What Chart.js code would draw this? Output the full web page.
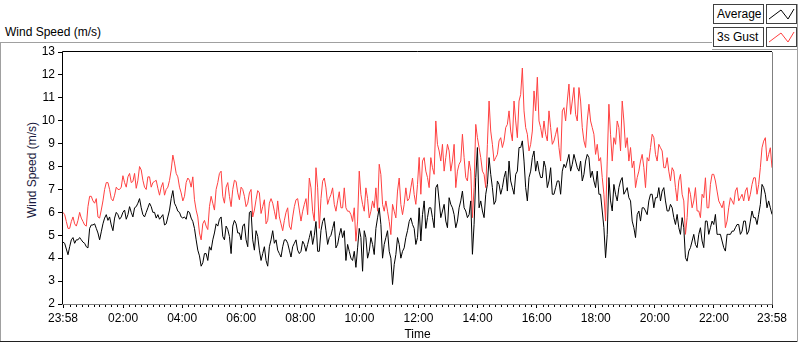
<!DOCTYPE html>
<html>
<head>
<meta charset="utf-8">
<script src="https://cdn.jsdelivr.net/npm/chart.js"></script>
<style>
  body { margin: 0; background: #fff; }
  #contenedor { position: relative; width: 800px; height: 342px; overflow: hidden;
    font-family: "Liberation Sans", Arial, sans-serif; font-size: 12px; color: #000; }
  #grafico { position: absolute; left: 0; top: 0; }
  .linea { position: absolute; background: #a0a0a0; }
  #titulo { position: absolute; left: 5px; top: 25px; line-height: 14px; white-space: nowrap; }
  #tituloY { position: absolute; left: 32px; top: 170px; width: 120px; margin-left: -60px; margin-top: -7px;
    line-height: 14px; text-align: center; transform: rotate(-90deg); white-space: nowrap; color: #1a1a40; }
  .caja { position: absolute; border: 1px solid #404040; background: #fff; box-sizing: border-box; }
  .caja span { position: absolute; left: 3px; top: 2px; line-height: 14px; white-space: nowrap; }
</style>
</head>
<body>
<div id="contenedor">
  <!-- marco exterior -->
  <div class="linea" style="left:0;top:42px;width:712px;height:1px"></div>
  <div class="linea" style="left:0;top:42px;width:1px;height:300px"></div>
  <div class="linea" style="left:0;top:341px;width:798px;height:1px;background:#202020"></div>
  <div class="linea" style="left:797px;top:4px;width:1px;height:338px"></div>
  <div class="linea" style="left:712px;top:49px;width:86px;height:1px"></div>

  <div id="titulo">Wind Speed (m/s)</div>
  <div id="tituloY">Wind Speed (m/s)</div>

  <!-- leyenda -->
  <div class="caja" style="left:713px;top:4px;width:51px;height:20px"><span>Average</span></div>
  <div class="caja" style="left:766px;top:4px;width:31px;height:20px">
    <svg width="29" height="18"><polyline points="2,14 14,5 21,14 27,4" fill="none" stroke="#000" stroke-width="1"/></svg>
  </div>
  <div class="caja" style="left:713px;top:27px;width:51px;height:20px"><span>3s Gust</span></div>
  <div class="caja" style="left:766px;top:27px;width:31px;height:20px">
    <svg width="29" height="18"><polyline points="2,14 14,5 21,14 27,4" fill="none" stroke="#ff4040" stroke-width="1"/></svg>
  </div>

  <canvas id="grafico" width="800" height="342"></canvas>
</div>
<script>
// Datos (m/s), muestras igualmente espaciadas de 23:58 a 23:58
const promedio = [
  4.7, 4.65, 4.4, 4.15, 4.5, 4.8, 4.9, 4.65, 4.8, 4.8, 4.9, 4.8, 4.7, 4.65, 4.5, 4.45, 5.3, 5.45, 5.45, 5.5,
  5.3, 5.1, 4.8, 5.15, 5.5, 5.75, 5.9, 5.65, 5.8, 5.45, 5.2, 5.75, 6.0, 5.9, 5.7, 5.8, 6.0, 6.1, 5.7, 5.9,
  6.25, 6.0, 5.8, 6.2, 6.25, 6.4, 6.6, 6.2, 5.9, 5.8, 6.0, 6.2, 6.4, 6.25, 6.0, 6.0, 5.75, 5.9, 5.7, 5.8,
  5.9, 5.45, 5.5, 5.8, 6.1, 6.6, 6.95, 6.4, 6.25, 6.05, 6.0, 5.8, 5.75,
  5.8, 5.7, 6.05, 6.0, 5.75, 5.6, 5.3, 4.8, 4.35, 4.1, 3.65, 3.8, 4.2, 4.2, 3.9, 4.5, 4.35, 4.8, 5.1, 5.5,
  5.4, 5.7, 5.8, 4.95, 4.8, 5.4, 5.25, 4.95, 4.2, 5.4, 5.65, 5.5, 5.1, 5.1, 4.8, 5.4, 5.5, 4.8, 4.5, 6.0,
  6.05, 4.8, 4.35, 5.2, 4.95, 4.35, 3.9, 4.2, 4.5, 3.9, 3.65, 4.5, 4.8, 5.2, 4.65, 4.8, 4.35, 4.2, 4.05, 4.5,
  4.8, 4.8, 4.65, 4.35, 4.05, 4.5, 4.65, 4.8, 4.35, 4.2,
  4.3, 4.74, 4.6, 4.3, 4.6, 4.9, 5.2, 4.6, 5.0, 5.6, 4.3, 4.3, 5.2, 5.6, 5.76, 5.2, 4.6, 4.9, 5.0, 5.3,
  5.6, 4.45, 4.6, 5.0, 5.3, 4.9, 5.2, 3.9, 4.6, 4.3, 4.0, 3.9, 4.3, 3.6, 4.45, 5.3, 4.9, 3.43, 5.2, 4.9,
  4.0, 4.3, 4.9, 4.6, 4.16, 5.3, 5.76, 6.2, 5.47, 4.0, 4.6, 4.9, 5.2, 4.3, 4.0, 2.85, 3.72, 4.16, 4.9, 4.6,
  4.0, 4.3, 4.45, 4.9, 5.2, 5.6, 5.76, 5.47, 5.3, 4.6, 4.9, 6.2,
  4.75, 5.9, 6.5, 5.3, 5.77, 6.2, 6.2, 5.77, 5.33, 7.08, 7.22, 6.5, 5.77, 6.06, 6.35, 5.62, 5.33, 6.64, 6.35, 6.2,
  5.9, 5.33, 5.62, 6.2, 6.5, 6.93, 6.2, 6.06, 5.77, 5.9, 6.5, 4.17, 5.48, 7.52, 8.83, 6.2, 6.5, 6.06, 5.77, 6.79,
  7.22, 8.39, 7.66, 7.08, 6.35, 6.5, 7.37, 7.22, 6.79, 7.08, 7.52, 7.8, 6.93, 8.24, 7.37, 7.08, 6.79, 7.66, 7.8, 8.83,
  8.83, 9.12, 8.24, 7.08, 6.5, 7.52, 7.8, 8.39, 8.68, 7.8,
  8.24, 7.8, 7.52, 7.52, 8.24, 7.95, 7.08, 7.37, 7.95, 6.79, 6.79, 7.08, 7.37, 7.37, 6.79, 7.8, 8.1, 7.95, 8.24, 8.53,
  7.8, 8.1, 8.53, 8.24, 7.95, 7.8, 8.24, 7.37, 7.66, 8.24, 8.53, 8.39, 7.52, 7.8, 7.37, 7.08, 7.8, 6.79, 6.79, 6.06,
  5.33, 4.02, 5.04, 7.52, 6.5, 6.06, 7.22, 6.79, 6.5, 7.08, 7.37, 7.52, 6.79, 6.93, 7.08, 6.64, 6.5, 5.62, 5.33, 4.9,
  5.9, 6.06, 5.62, 6.2, 6.2, 6.06, 5.9, 6.5, 6.79, 6.79, 6.2, 6.64,
  6.64, 7.08, 6.5, 6.93, 7.08, 6.5, 6.06, 6.06, 6.35, 6.2, 5.77, 5.47, 5.91, 5.33, 5.04, 5.77, 5.33, 4.02, 3.87, 4.31,
  4.46, 4.75, 5.04, 4.6, 4.46, 5.04, 5.33, 4.75, 4.46, 5.62, 5.62, 5.04, 5.33, 5.62, 5.47, 5.91, 5.04, 5.04, 5.04, 4.75,
  4.46, 4.31, 5.04, 5.04, 5.04, 5.18, 5.18, 5.33, 5.47, 5.47, 5.04, 5.18, 5.62, 5.62, 5.04, 5.18, 5.62, 6.06, 5.77, 5.77,
  5.47, 5.91, 6.35, 7.22, 7.08, 6.79, 6.2, 6.5, 6.2, 5.91
];
const rafaga = [
  6.0, 5.9, 5.6, 5.3, 5.3, 5.6, 5.8, 5.5, 5.4, 5.65, 6.0, 5.75, 5.6, 5.45, 5.4, 6.25, 6.7, 6.7, 6.5, 6.4,
  6.6, 5.8, 5.75, 6.1, 6.5, 7.0, 7.3, 7.3, 7.0, 6.6, 6.5, 6.75, 7.1, 7.0, 7.0, 7.1, 7.6, 7.3, 7.1, 7.55,
  7.7, 7.3, 7.35, 7.7, 7.05, 7.4, 8.0, 7.85, 7.4, 7.1, 7.0, 7.55, 7.55, 7.1, 7.3, 7.35, 7.4, 7.05, 6.75, 7.1,
  7.3, 6.75, 7.0, 7.1, 7.4, 7.85, 8.5, 8.15, 7.7, 7.55, 7.1, 6.85, 6.5,
  6.7, 7.3, 7.5, 7.4, 7.1, 7.55, 6.55, 6.1, 5.8, 5.1, 4.8, 5.5, 5.65, 5.4, 5.25, 6.25, 6.7, 6.4, 6.1, 7.0,
  7.3, 7.7, 7.8, 6.7, 6.4, 7.1, 7.3, 6.7, 6.25, 7.0, 7.4, 7.35, 6.85, 6.55, 7.1, 7.0, 6.7, 6.25, 6.4, 6.85,
  7.0, 5.8, 6.1, 6.55, 6.95, 6.85, 5.95, 6.25, 6.55, 5.5, 5.65, 6.4, 6.6, 6.4, 6.05, 5.7, 6.5, 5.8, 5.5, 5.2,
  5.65, 6.0, 6.2, 5.4, 5.25, 5.8, 6.25, 6.55, 6.6, 6.1,
  5.62, 6.05, 6.35, 6.6, 5.9, 7.5, 7.07, 6.05, 5.62, 7.95, 7.07, 5.3, 6.6, 7.36, 7.5, 7.07, 6.35, 6.6, 6.78, 7.07,
  6.35, 6.05, 6.5, 6.9, 6.2, 6.2, 7.07, 6.2, 6.05, 6.05, 5.9, 5.6, 6.2, 4.74, 5.62, 7.8, 6.78, 6.35, 6.05, 7.07,
  6.6, 5.76, 6.05, 6.5, 6.2, 7.07, 6.05, 8.1, 7.65, 6.35, 6.05, 6.5, 6.05, 5.6, 5.03, 6.35, 6.05, 5.76, 6.93, 7.5,
  6.35, 5.9, 6.35, 7.07, 6.5, 6.6, 7.07, 7.5, 6.78, 6.35, 7.22, 8.4,
  6.79, 8.24, 8.39, 7.8, 7.52, 7.08, 8.39, 7.95, 7.66, 9.99, 8.97, 8.68, 8.24, 8.97, 7.8, 8.39, 8.97, 8.68, 7.8, 8.24,
  8.97, 7.08, 7.8, 8.1, 8.24, 9.41, 8.39, 7.52, 7.37, 8.24, 7.8, 5.77, 7.08, 9.84, 9.26, 8.83, 8.39, 7.8, 7.66, 7.08,
  8.97, 10.86, 9.55, 8.97, 8.24, 8.39, 8.53, 9.12, 9.26, 8.83, 9.12, 9.7, 9.84, 10.43, 9.55, 9.12, 10.86, 9.99, 9.26, 10.86,
  11.15, 12.3, 10.43, 9.7, 9.41, 8.68, 8.97, 9.55, 11.3, 10.43,
  11.9, 9.99, 9.7, 9.26, 9.99, 9.41, 9.12, 10.43, 9.7, 8.97, 9.12, 9.41, 9.7, 8.83, 8.24, 10.43, 10.57, 9.99, 10.86, 11.6,
  10.28, 10.86, 11.45, 10.28, 9.99, 11.45, 10.86, 9.7, 9.12, 8.83, 9.99, 10.72, 9.99, 9.7, 9.41, 8.53, 8.97, 8.24, 8.39, 7.52,
  6.79, 5.62, 8.24, 10.72, 9.41, 8.24, 9.26, 8.97, 9.99, 9.7, 8.68, 10.86, 9.99, 8.83, 9.26, 8.24, 8.83, 7.95, 8.24, 7.08,
  7.52, 7.8, 8.24, 8.53, 7.95, 7.08, 8.39, 8.24, 8.83, 9.41, 9.26, 8.53,
  8.24, 8.97, 8.82, 8.68, 7.95, 7.95, 8.39, 7.8, 7.37, 7.95, 7.8, 7.08, 6.5, 7.37, 7.66, 6.79, 6.5, 5.04, 5.77, 7.08,
  6.79, 6.2, 6.5, 7.08, 6.06, 6.06, 5.77, 6.79, 6.64, 7.51, 6.2, 6.2, 7.22, 7.66, 7.66, 7.37, 6.93, 6.5, 6.35, 6.2,
  6.5, 5.33, 5.62, 6.2, 6.64, 6.5, 6.35, 6.93, 7.08, 6.5, 6.64, 6.79, 6.5, 6.93, 7.08, 6.5, 6.79, 7.22, 7.51, 7.51,
  6.79, 7.22, 7.95, 8.82, 9.11, 9.26, 8.24, 8.53, 8.82, 7.95
];
// minutos desde las 23:58 y sus etiquetas
const ticksMayores = [0, 122, 242, 362, 482, 602, 722, 842, 962, 1082, 1202, 1322, 1440];
const etiquetasTiempo = ['23:58', '02:00', '04:00', '06:00', '08:00', '10:00', '12:00',
  '14:00', '16:00', '18:00', '20:00', '22:00', '23:58'];
const duracion = 1440;

const fuente = { family: '"Liberation Sans", Arial, sans-serif', size: 12 };

function aPuntos(valores) {
  const paso = duracion / (valores.length - 1);
  return valores.map((v, i) => ({ x: i * paso, y: v }));
}

// Marco del area de grafico y ticks menores del eje de tiempo
const marcoGrafico = {
  id: 'marcoGrafico',
  afterDraw(chart) {
    const { ctx, chartArea: a, scales: { x } } = chart;
    ctx.save();
    ctx.lineWidth = 1;
    ctx.strokeStyle = '#000';
    ctx.beginPath();
    ctx.moveTo(a.left - 0.5, a.bottom);
    ctx.lineTo(a.left - 0.5, a.top - 0.5);
    ctx.lineTo(a.right, a.top - 0.5);
    ctx.stroke();
    ctx.strokeStyle = '#808080';
    ctx.beginPath();
    ctx.moveTo(a.right + 0.5, a.top);
    ctx.lineTo(a.right + 0.5, a.bottom + 0.5);
    ctx.lineTo(a.left - 1, a.bottom + 0.5);
    ctx.stroke();
    ctx.strokeStyle = '#000';
    ctx.beginPath();
    for (let v = 14; v < duracion; v += 12) {
      if (ticksMayores.includes(v)) continue;
      const px = Math.round(x.getPixelForValue(v)) + 0.5;
      ctx.moveTo(px, a.bottom + 1);
      ctx.lineTo(px, a.bottom + 3);
    }
    ctx.stroke();
    ctx.restore();
  }
};

const ctx = document.getElementById('grafico');

new Chart(ctx, {
  type: 'line',
  data: {
    datasets: [{
      label: 'Average',
      data: aPuntos(promedio),
      borderColor: '#000000',
      borderWidth: 1,
      pointRadius: 0,
      tension: 0
    }, {
      label: '3s Gust',
      data: aPuntos(rafaga),
      borderColor: '#ff4040',
      borderWidth: 1,
      pointRadius: 0,
      tension: 0
    }]
  },
  options: {
    responsive: false,
    animation: false,
    devicePixelRatio: 1,
    layout: { padding: { left: 0, top: 52, right: 28, bottom: 0 } },
    plugins: { legend: { display: false }, tooltip: { enabled: false } },
    scales: {
      x: {
        type: 'linear',
        min: 0,
        max: duracion,
        afterBuildTicks: (escala) => { escala.ticks = ticksMayores.map(v => ({ value: v })); },
        afterFit: (escala) => { escala.height = 342 - 304; },
        ticks: {
          autoSkip: false,
          maxRotation: 0,
          padding: 3,
          color: '#000',
          font: fuente,
          callback: (v) => etiquetasTiempo[ticksMayores.indexOf(v)] ?? ''
        },
        grid: { drawOnChartArea: false, tickLength: 4, tickColor: '#000', tickWidth: 1, offset: false },
        border: { display: false },
        title: { display: true, text: 'Time', color: '#000', font: fuente, padding: { top: 0, bottom: 0 } }
      },
      y: {
        min: 2,
        max: 13,
        afterFit: (escala) => { escala.width = 63; },
        ticks: { stepSize: 1, padding: 3, color: '#000', font: fuente },
        grid: { drawOnChartArea: false, tickLength: 5, tickColor: '#000' },
        border: { display: false }
      }
    }
  },
  plugins: [marcoGrafico]
});
</script>
</body>
</html>
